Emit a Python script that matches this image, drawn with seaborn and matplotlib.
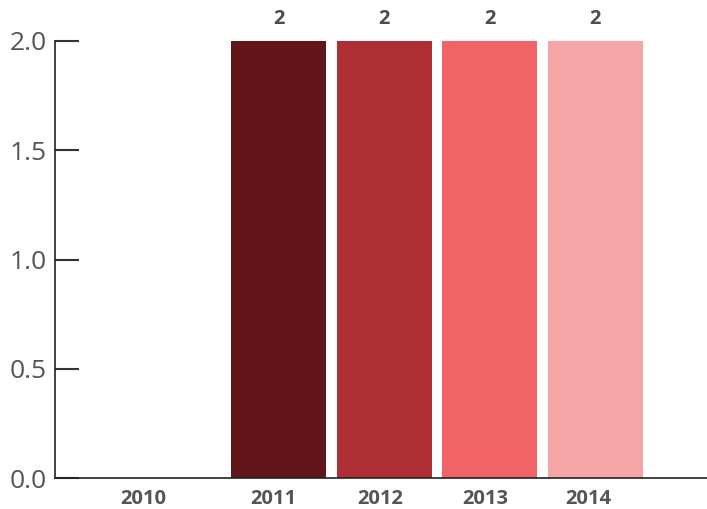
import seaborn as sns
import matplotlib.pyplot as plt
import pandas as pd

years = ['2010', '2011', '2012', '2013', '2014']
values = [0, 2, 2, 2, 2]
colors = ['#ffffff', '#611518', '#ad2f33', '#f06468', '#f5a5a6']

df = pd.DataFrame({'year': years, 'value': values})

sns.set_style('white')
plt.rcParams['font.family'] = ['Open Sans', 'DejaVu Sans']

fig = plt.figure(figsize=(7.07, 5.09), dpi=100)
ax = fig.add_axes([55 / 707, 1 - 478 / 509, 1 - 55 / 707, (478 - 41) / 509])

sns.barplot(data=df, x='year', y='value', hue='year', palette=colors,
            order=years, legend=False, width=0.9, saturation=1, ax=ax)

for cont in ax.containers:
    for bar in cont:
        bar.set_edgecolor('none')
    labs = [f'{v:g}' if v else '' for v in cont.datavalues]
    ax.bar_label(cont, labels=labs, padding=9, fontsize=14.5, fontweight='bold', color='#4d4d4d')

ax.set_ylim(0, 2)
ax.set_xlim(-1.12, 5.06)
ax.set_yticks([0, 0.5, 1.0, 1.5, 2.0])
ax.set_yticklabels(['0.0', '0.5', '1.0', '1.5', '2.0'])
ax.set_xticks([-0.28, 0.95, 1.96, 2.96, 3.94])
ax.set_xticklabels(years)
ax.tick_params(axis='y', left=True, direction='in', length=17, width=1.5, color='#333333',
               labelsize=19, labelcolor='#555555', pad=6)
ax.tick_params(axis='x', bottom=False, length=0, labelsize=14.5, labelcolor='#555555', pad=8)
for t in ax.get_xticklabels():
    t.set_fontweight('bold')

ax.set_xlabel('')
ax.set_ylabel('')
for s in ['top', 'right']:
    ax.spines[s].set_visible(False)
for s in ['left', 'bottom']:
    ax.spines[s].set_color('#222222')
    ax.spines[s].set_linewidth(1.2)

fig.savefig('out.png', dpi=100)
